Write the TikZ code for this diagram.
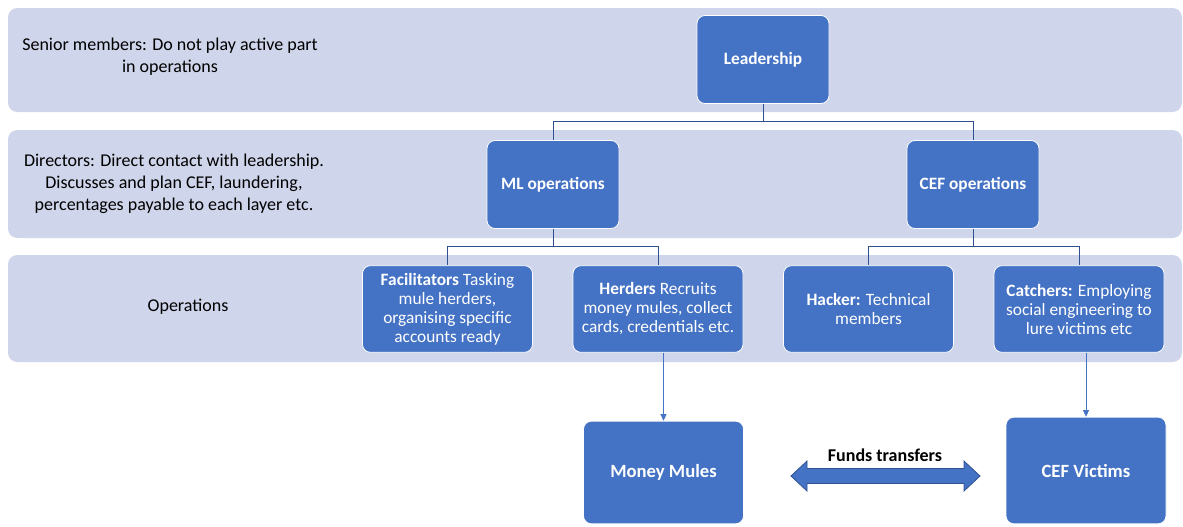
\documentclass[tikz,border=0pt]{standalone}
\usepackage{fontspec}
\setmainfont{Carlito}
\usetikzlibrary{arrows.meta}
\definecolor{bandfill}{HTML}{CFD5EA}
\definecolor{boxblue}{HTML}{4472C4}
\definecolor{edgeblue}{HTML}{2F528F}

\begin{document}
\begin{tikzpicture}[x=0.75pt,y=-0.75pt,
  band/.style={fill=bandfill,rounded corners=7pt},
  box/.style={draw=white,line width=0.6pt,fill=boxblue,rounded corners=6pt,
    text=white,align=center,inner sep=2pt,font=\fontsize{13}{14.25}\selectfont},
  head/.style={box,font=\fontsize{13}{15}\selectfont\bfseries},
  note/.style={align=center,font=\fontsize{13.5}{16.5}\selectfont},
  conn/.style={draw=edgeblue,line width=0.7pt}]
\useasboundingbox (0,0) rectangle (1183,526);

% the three layers
\fill[band] (8,8) rectangle (1182,112);
\fill[band] (8,130) rectangle (1182,238);
\fill[band] (8,255) rectangle (1182,362);

\node[note] (senior) at (170,57) {Senior members: Do not play active part\\ in operations};
\node[note] (directors) at (174,184) {Directors: Direct contact with leadership.\\ Discusses and plan CEF, laundering,\\ percentages payable to each layer etc.};
\node[note] (operations) at (188,307) {Operations};

% boxes
\node[head,minimum width=99pt,minimum height=66pt] (lead) at (763,59.5) {Leadership};
\node[head,minimum width=99pt,minimum height=66pt] (ml) at (553,184.5) {ML operations};
\node[head,minimum width=99pt,minimum height=66pt] (cef) at (973,184.5) {CEF operations};

\node[box,minimum width=127.5pt,minimum height=65pt] (facil) at (447.5,309)
  {\textbf{Facilitators} Tasking\\ mule herders,\\ organising specific\\ accounts ready};
\node[box,minimum width=127.5pt,minimum height=65pt] (herders) at (658,309)
  {\textbf{Herders} Recruits\\ money mules, collect\\ cards, credentials etc.};
\node[box,minimum width=127.5pt,minimum height=65pt] (hacker) at (868.5,309)
  {\textbf{Hacker:} Technical\\ members};
\node[box,minimum width=127.5pt,minimum height=65pt] (catchers) at (1079,309)
  {\textbf{Catchers:} Employing\\ social engineering to\\ lure victims etc};

\node[head,font=\fontsize{14}{16}\selectfont\bfseries,minimum width=120pt,minimum height=77pt] (mules) at (663.5,472.5) {Money Mules};
\node[head,font=\fontsize{14}{16}\selectfont\bfseries,minimum width=120pt,minimum height=80pt] (victims) at (1086,470.5) {CEF Victims};

% tree lines
\draw[conn] (lead.south) -- ++(0,18) -| (ml.north);
\draw[conn] (lead.south) -- ++(0,18) -| (cef.north);
\draw[conn] (ml.south) -- ++(0,18) -| (facil.north);
\draw[conn] (ml.south) -- ++(0,18) -| (herders.north);
\draw[conn] (cef.south) -- ++(0,18) -| (hacker.north);
\draw[conn] (cef.south) -- ++(0,18) -| (catchers.north);

\draw[draw=boxblue,line width=0.7pt,-{Triangle[length=5pt,width=4.5pt]}] (mules.north |- herders.south) -- (mules.north);
\draw[draw=boxblue,line width=0.7pt,-{Triangle[length=5pt,width=4.5pt]}] (victims.north |- catchers.south) -- (victims.north);

% funds transfers
\node[font=\fontsize{13.5}{15}\selectfont\bfseries] (funds) at (885,455) {Funds transfers};
\filldraw[fill=boxblue,draw=edgeblue,line width=0.6pt] (791,476) -- (807,461) -- (807,468.5)
  -- (964,468.5) -- (964,461) -- (980,476) -- (964,491) -- (964,483.5)
  -- (807,483.5) -- (807,491) -- cycle;
\end{tikzpicture}
\end{document}
